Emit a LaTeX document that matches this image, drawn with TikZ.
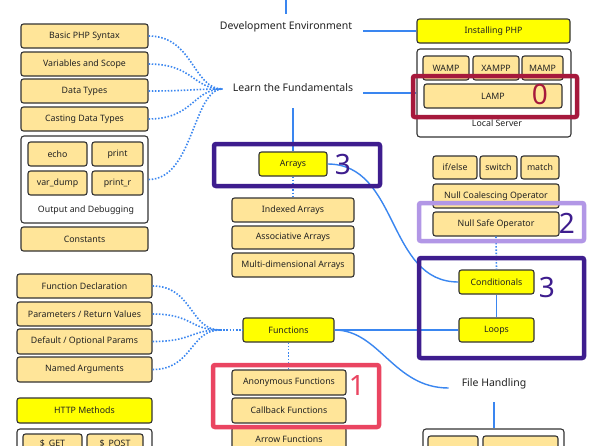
\documentclass[tikz,border=0pt]{standalone}
\usepackage{fontspec}
\setmainfont{Noto Sans}
\usetikzlibrary{calc}
\definecolor{btnfill}{HTML}{FFE599}
\definecolor{ylw}{HTML}{FFFF00}
\definecolor{edge}{HTML}{333333}
\definecolor{txt}{HTML}{222222}
\definecolor{lblue}{HTML}{3A86F0}
\definecolor{purp}{HTML}{3E1D8E}
\definecolor{lav}{HTML}{B297E6}
\definecolor{redz}{HTML}{A6193C}
\definecolor{redo}{HTML}{EA4561}
\begin{document}
\begin{tikzpicture}[x=1pt,y=-1pt,
  sz/.style 2 args={minimum width=#1pt, minimum height=#2pt},
  btn/.style={draw=edge, fill=btnfill, rounded corners=2.5pt, line width=1.1pt, inner sep=0pt, font=\fontsize{8.8}{10}\selectfont, text=txt},
  ybtn/.style={btn, fill=ylw},
  grp/.style={draw=edge, fill=white, rounded corners=3pt, line width=1.1pt, inner sep=0pt},
  lbl/.style={font=\fontsize{10.5}{12}\selectfont, text=txt, text height=8pt, text depth=2.5pt},
  small/.style={font=\fontsize{8.8}{10}\selectfont, text=txt, inner sep=0pt},
  conn/.style={draw=lblue, line width=1.4pt},
  dots/.style={draw=lblue, line width=1.6pt, dash pattern=on 1.5pt off 1.7pt},
  hl/.style={line width=4.5pt, rounded corners=2pt},
  num/.style={font=\fontsize{28}{30}\selectfont, inner sep=0pt}
]
\useasboundingbox (0,0) rectangle (592,445);
\fill[white] (0,0) rectangle (592,445);

% ---- top center labels
\coordinate (top) at (286,0);
\node[lbl, inner xsep=11pt, inner ysep=8pt] (devenv) at (286,27) {Development Environment};
\node[lbl, inner xsep=10pt, inner ysep=14pt] (learn) at (293,89) {Learn the Fundamentals};

% ---- development environment (right)
\node[ybtn, sz={153}{24}] (inst) at (493.5,31) {Installing PHP};
\node[grp, sz={154}{88}] (localsrv) at (494,93) {};
\node[btn, sz={46}{24}] (wamp) at (446,68) {WAMP};
\node[btn, sz={46}{24}] (xampp) at (496,68) {XAMPP};
\node[btn, sz={41}{24}] (mamp) at (542.5,68) {MAMP};
\node[btn, sz={138}{24}] (lamp) at (493,96) {LAMP};
\node[small] (lsl) at (497,123) {Local Server};

% ---- fundamentals (left)
\node[btn, sz={127}{24}] (basic) at (84.5,36) {Basic PHP Syntax};
\node[btn, sz={127}{24}] (vars) at (84.5,64) {Variables and Scope};
\node[btn, sz={127}{24}] (dtypes) at (84.5,91) {Data Types};
\node[btn, sz={127}{24}] (casting) at (84.5,119) {Casting Data Types};
\node[grp, sz={127}{87}] (outbox) at (84.5,179.5) {};
\node[btn, sz={59}{24}] (echo) at (57.5,154) {echo};
\node[btn, sz={51}{24}] (print) at (117.5,154) {print};
\node[btn, sz={59}{24}] (vardump) at (57.5,183) {var\_dump};
\node[btn, sz={51}{24}] (printr) at (117.5,183) {print\_r};
\node[small] (outl) at (86,210) {Output and Debugging};
\node[btn, sz={127}{24}] (consts) at (84.5,239) {Constants};

% ---- arrays
\node[ybtn, sz={68}{24}] (arrays) at (293,164) {Arrays};
\node[btn, sz={122}{24}] (indexed) at (293,210) {Indexed Arrays};
\node[btn, sz={122}{23}] (assoc) at (293,237.5) {Associative Arrays};
\node[btn, sz={122}{24}] (multi) at (293,265) {Multi-dimensional Arrays};

% ---- conditionals
\node[btn, sz={44}{23}] (ifelse) at (455,167.5) {if/else};
\node[btn, sz={37}{23}] (switch) at (498.5,167.5) {switch};
\node[btn, sz={38}{23}] (match) at (540,167.5) {match};
\node[btn, sz={126}{24}] (nullco) at (496,196) {Null Coalescing Operator};
\node[btn, sz={126}{24}] (nullsafe) at (496,224) {Null Safe Operator};
\node[ybtn, sz={75}{24}] (cond) at (496.5,282) {Conditionals};
\node[ybtn, sz={75}{24}] (loops) at (496.5,330) {Loops};

% ---- functions
\node[ybtn, sz={91}{24}] (functions) at (288.5,330) {Functions};
\node[btn, sz={135}{24}] (fdecl) at (84.5,286) {Function Declaration};
\node[btn, sz={135}{24}] (params) at (84.5,314) {Parameters / Return Values};
\node[btn, sz={135}{25}] (defaults) at (84.5,341.5) {Default / Optional Params};
\node[btn, sz={135}{25}] (named) at (84.5,369.5) {Named Arguments};
\node[btn, sz={114}{25}] (anon) at (289,382.5) {Anonymous Functions};
\node[btn, sz={114}{25}] (callback) at (289,410.5) {Callback Functions};
\node[btn, sz={114}{24}] (arrowf) at (289,439) {Arrow Functions};
\coordinate (fconv) at (220,330);

% ---- http
\node[ybtn, sz={135}{25}] (http) at (84.5,410.5) {HTTP Methods};
\node[grp, sz={135}{46}] (httpbox) at (84.5,452) {};
\node[btn, sz={59}{19}] (get) at (52.5,443.5) {\$\_GET};
\node[btn, sz={56}{19}] (post) at (115,443.5) {\$\_POST};

% ---- file handling
\node[lbl, inner xsep=13pt, inner ysep=12.75pt] (fh) at (494,384) {File Handling};
\node[grp, sz={141}{46}] (fhbox) at (493.5,452) {};
\node[btn, sz={50}{30}] (fh1) at (453,451) {};
\node[btn, sz={75}{30}] (fh2) at (520.5,451) {};

% ---- connectors
\draw[conn] (top) -- (devenv.north);
\draw[conn] (devenv.east |- inst.west) -- (inst.west);
\draw[conn] (learn.east |- localsrv.west) -- (localsrv.west);
\draw[conn] (learn.south) -- (arrays.north);
\draw[conn] (arrays.east) .. controls +(72,0) and +(-72,0) .. (cond.west);
\draw[conn] (cond.south) -- (loops.north);
\draw[conn] (functions.east) -- (loops.west);
\draw[conn] (functions.east) .. controls +(45,0) and +(-55,0) .. ([yshift=-4pt]fh.west);
\draw[conn] (fh.south) -- (fh.south |- fhbox.north);

\draw[dots] (basic.east) .. controls +(45,0) and +(-30,0) .. (learn.west);
\draw[dots] (vars.east) .. controls +(45,0) and +(-30,0) .. (learn.west);
\draw[dots] (dtypes.east) .. controls +(40,0) and +(-30,0) .. (learn.west);
\draw[dots] (casting.east) .. controls +(45,0) and +(-30,0) .. (learn.west);
\draw[dots] (outbox.east) .. controls +(45,0) and +(-30,0) .. (learn.west);
\draw[dots] (arrays.south) -- (indexed.north);
\draw[dots] (nullsafe.south) -- (cond.north);
\draw[dots] (fdecl.east) .. controls +(40,0) and +(-30,0) .. (fconv);
\draw[dots] (params.east) .. controls +(40,0) and +(-30,0) .. (fconv);
\draw[dots] (defaults.east) .. controls +(40,0) and +(-30,0) .. (fconv);
\draw[dots] (named.east) .. controls +(40,0) and +(-30,0) .. (fconv);
\draw[dots] (fconv) -- (functions.west);
\draw[dots] (functions.south) -- (functions.south |- anon.north);

% ---- highlights
\draw[hl, draw=redz] (413,76) rectangle (577,117);
\node[num, text=redz] (n0) at (540,94) {0};
\draw[hl, draw=purp] (214,144) rectangle (380,186);
\node[num, text=purp] (n3a) at (343,164) {3};
\draw[hl, draw=lav] (419,203) rectangle (584,241);
\node[num, text=purp] (n2) at (567,223) {2};
\draw[hl, draw=purp] (419,258) rectangle (584,358);
\node[num, text=purp] (n3b) at (547,287) {3};
\draw[hl, draw=redo] (213,365) rectangle (379,427);
\node[num, text=redo] (n1) at (357,385) {1};
\end{tikzpicture}
\end{document}
